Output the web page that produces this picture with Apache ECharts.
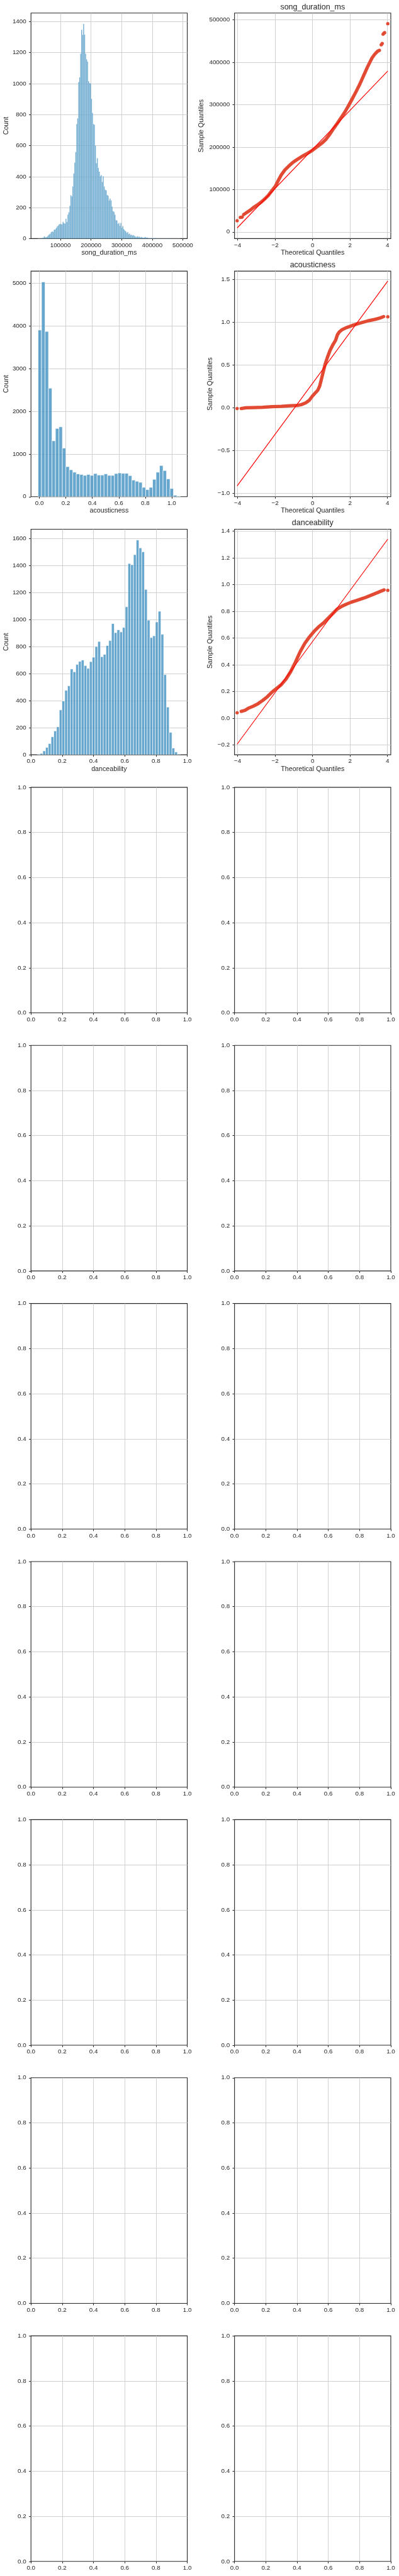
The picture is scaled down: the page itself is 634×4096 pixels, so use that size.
<!DOCTYPE html>
<html><head><meta charset="utf-8">
<script src="https://cdn.jsdelivr.net/npm/echarts@6/dist/echarts.min.js"></script>
<style>html,body{margin:0;padding:0;background:#fff}#c{width:634px;height:4096px}</style>
</head><body><div id="c"></div>
<script>
// ---------------- data ----------------
const features = ['song_duration_ms', 'acousticness', 'danceability'];

const durationStart = 26885, durationWidth = 3203.4;
const durationCounts = [
  2,1,3,3,5,8,15,8,10,14,
  22,28,32,42,46,44,58,58,68,78,
  84,92,95,94,92,108,100,97,128,107,
  155,170,212,280,272,336,420,490,558,739,
  775,1010,1040,1193,1347,1315,1385,1316,1193,1157,
  1142,1016,1004,1002,902,811,739,735,601,486,
  519,456,432,402,410,366,402,336,315,312,
  282,276,246,258,246,207,177,173,155,119,
  117,95,101,83,101,71,81,61,53,47,
  37,42,29,32,23,25,20,23,17,13,
  11,16,11,13,8,11,8,5,8,11,
  6,8,4,3,3,4,3,3,2,4,
  3,2,1,2,1,3,1,2,1,0,
  1,1,2,3,1,0,1,0,1,0,
  0,1,0,2,1
];

const acousticStart = -0.0098, acousticWidth = 0.02622;
const acousticCounts = [3902,5026,3867,2541,1308,1597,1636,1137,704,630,573,534,521,499,521,499,542,507,507,534,499,499,542,556,547,547,494,389,363,337,219,166,219,407,573,731,612,416,192,35,13];

const danceStart = 0.0406, danceWidth = 0.01758;
const danceCounts = [4,10,29,54,83,133,177,207,332,398,477,510,635,614,668,691,701,660,639,689,722,801,838,726,743,808,845,971,904,925,909,942,1095,1415,1406,1481,1589,1531,1502,1224,996,867,880,983,1062,892,593,353,166,50,21,6];

// QQ plots: [theoretical, sample]
const qqDurationBand = [[-3.68,40900],[-3.58,44000],[-3.46,47500],[-3.31,52000],[-3.17,57200],[-2.97,63000],[-2.77,69500],[-2.57,77000],[-2.37,85800],[-2.17,97300],[-1.97,109000],[-1.82,122400],[-1.67,134700],[-1.47,146600],[-1.27,155400],[-1.07,163300],[-0.87,169500],[-0.67,175200],[-0.47,180500],[-0.27,185300],[-0.07,190600],[0.13,197200],[0.33,203800],[0.53,210400],[0.73,219200],[0.93,231000],[1.13,244300],[1.33,256600],[1.53,269800],[1.73,283000],[1.93,298400],[2.13,314700],[2.33,331400],[2.53,349000],[2.73,368800],[2.93,388600],[3.08,401800],[3.18,410600],[3.33,419500],[3.47,426000],[3.57,428300]];
const qqDurationTail = [[-4.03,26400],[-3.86,34300],[-3.80,34600],[-3.76,35200],[3.67,441500],[3.72,444500],[3.77,466500],[3.82,469000],[3.85,470000],[4.02,491200]];
const qqDurationLine = [[-4.03,9240],[4.02,379500]];

const qqAcousticBand = [[-3.81,-0.011],[-3.56,-0.002],[-3.17,0.0],[-2.67,0.004],[-2.17,0.011],[-1.67,0.015],[-1.17,0.022],[-0.77,0.026],[-0.57,0.037],[-0.37,0.055],[-0.17,0.087],[-0.02,0.131],[0.13,0.168],[0.28,0.203],[0.38,0.252],[0.48,0.339],[0.58,0.427],[0.68,0.514],[0.80,0.591],[0.93,0.667],[1.08,0.733],[1.23,0.787],[1.33,0.853],[1.43,0.886],[1.58,0.912],[1.83,0.938],[2.13,0.962],[2.53,0.989],[2.93,1.013],[3.33,1.032],[3.62,1.050],[3.80,1.065]];
const qqAcousticTail = [[-4.03,-0.011],[4.02,1.063]];
const qqAcousticLine = [[-4.03,-0.916],[4.02,1.481]];

const qqDanceBand = [[-3.81,0.052],[-3.61,0.060],[-3.41,0.077],[-3.17,0.091],[-2.92,0.109],[-2.67,0.133],[-2.42,0.161],[-2.17,0.196],[-1.92,0.224],[-1.67,0.252],[-1.42,0.293],[-1.17,0.349],[-0.92,0.419],[-0.67,0.496],[-0.42,0.559],[-0.17,0.608],[0.08,0.650],[0.33,0.685],[0.58,0.713],[0.83,0.748],[1.08,0.783],[1.33,0.818],[1.58,0.839],[1.83,0.855],[2.08,0.869],[2.33,0.880],[2.58,0.892],[2.83,0.904],[3.08,0.918],[3.33,0.932],[3.57,0.946],[3.82,0.960]];
const qqDanceTail = [[-4.03,0.042],[4.02,0.957]];
const qqDanceLine = [[-4.03,-0.193],[4.02,1.340]];

// tick labels
const durationTicks = [100000,200000,300000,400000,500000];
const countTicks1 = [0,200,400,600,800,1000,1200,1400];
const countTicks2 = [0,1000,2000,3000,4000,5000];
const countTicks3 = [0,200,400,600,800,1000,1200,1400,1600];
const unitTicks = [0,0.2,0.4,0.6,0.8,1.0];
const theoTicks = [-4,-2,0,2,4];
const qqDurTicks = [0,100000,200000,300000,400000,500000];
const qqAcTicks = [-1.0,-0.5,0.0,0.5,1.0,1.5];
const qqDaTicks = [-0.2,0.0,0.2,0.4,0.6,0.8,1.0,1.2,1.4];

// ---------------- layout / style ----------------
const S = 0.89;
const FONT = "'Liberation Sans', Arial, sans-serif";
const TXT = '#262626';
const LX = 55.3*S, RX = 418.7*S, GW = 279*S, GH = 403*S;
const rowTop = i => (23.3 + 461.1*i)*S;
const NROWS = 10;

function fmt(dec){ return v => (v < 0 ? '\u2212' : '') + Math.abs(v).toFixed(dec); }

function axis(kind, gi, min, max, ticks, dec, o) {
  o = o || {};
  const isX = kind === 'x';
  return {
    type: 'value', gridIndex: gi, min: min, max: max,
    name: o.name || '', nameLocation: 'middle', nameGap: o.nameGap || 0,
    nameTextStyle: {color: TXT, fontSize: 10.7, fontFamily: FONT},
    axisLine: {show: false, onZero: false},
    axisTick: {show: true, inside: false, length: 3.1, customValues: ticks, lineStyle: {color: TXT, width: 1}},
    axisLabel: {customValues: ticks, formatter: fmt(dec), color: TXT, fontSize: 9.8, fontFamily: FONT, margin: isX ? 5.5 : 7.5},
    splitLine: {show: true, lineStyle: {color: '#cccccc', width: 0.9}, showMinLine: !o.edgeMin, showMaxLine: !o.edgeMax}
  };
}

const grids = [], xAxes = [], yAxes = [], series = [], titles = [];
for (let r = 0; r < NROWS; r++) {
  for (let c = 0; c < 2; c++) {
    grids.push({left: c === 0 ? LX : RX, top: rowTop(r), width: GW, height: GH,
      show: true, borderColor: TXT, borderWidth: 1.1, backgroundColor: 'transparent', containLabel: false, outerBoundsMode: 'none'});
  }
}

function histSeries(gi, start, width, counts, lw) {
  const data = counts.map((c, i) => [start + width*i, start + width*(i+1), c]);
  return {
    type: 'custom', xAxisIndex: gi, yAxisIndex: gi, clip: true, data: data,
    encode: {x: [0,1], y: 2},
    renderItem: function(params, api) {
      const p0 = api.coord([api.value(0), api.value(2)]);
      const p1 = api.coord([api.value(1), 0]);
      return {type: 'rect', shape: {x: p0[0], y: p0[1], width: p1[0]-p0[0], height: p1[1]-p0[1]},
        style: {fill: 'rgba(52,138,189,0.75)', stroke: 'rgba(255,255,255,0.75)', lineWidth: lw}};
    }
  };
}
function qqSeries(gi, band, tail, line) {
  return [
    {type: 'line', xAxisIndex: gi, yAxisIndex: gi, data: band, showSymbol: false, symbol: 'none', smooth: false,
     lineStyle: {color: '#E24A33', width: 5.3, cap: 'round', join: 'round'}, z: 2},
    {type: 'scatter', xAxisIndex: gi, yAxisIndex: gi, data: tail, symbol: 'circle', symbolSize: 5.3,
     itemStyle: {color: '#E24A33', opacity: 1}, z: 3},
    {type: 'line', xAxisIndex: gi, yAxisIndex: gi, data: line, showSymbol: false, symbol: 'none',
     lineStyle: {color: '#ff0000', width: 1.2}, z: 4}
  ];
}

// Row 0
xAxes.push(axis('x', 0, 3660, 514600, durationTicks, 0, {name: features[0], nameGap: 17}));
yAxes.push(axis('y', 0, 0, 1455, countTicks1, 0, {name: 'Count', nameGap: 34, edgeMin: true}));
xAxes.push(axis('x', 1, -4.17, 4.18, theoTicks, 0, {name: 'Theoretical Quantiles', nameGap: 17}));
yAxes.push(axis('y', 1, -15800, 516300, qqDurTicks, 0, {name: 'Sample Quantiles', nameGap: 46.8}));
// Row 1
xAxes.push(axis('x', 2, -0.0635, 1.117, unitTicks, 1, {name: features[1], nameGap: 17}));
yAxes.push(axis('y', 2, 0, 5280, countTicks2, 0, {name: 'Count', nameGap: 34, edgeMin: true}));
xAxes.push(axis('x', 3, -4.17, 4.18, theoTicks, 0, {name: 'Theoretical Quantiles', nameGap: 17}));
yAxes.push(axis('y', 3, -1.043, 1.597, qqAcTicks, 1, {name: 'Sample Quantiles', nameGap: 32.6}));
// Row 2
xAxes.push(axis('x', 4, 0, 1, unitTicks, 1, {name: features[2], nameGap: 17, edgeMin: true, edgeMax: true}));
yAxes.push(axis('y', 4, 0, 1669, countTicks3, 0, {name: 'Count', nameGap: 34, edgeMin: true}));
xAxes.push(axis('x', 5, -4.17, 4.18, theoTicks, 0, {name: 'Theoretical Quantiles', nameGap: 17}));
yAxes.push(axis('y', 5, -0.2725, 1.414, qqDaTicks, 1, {name: 'Sample Quantiles', nameGap: 32.6}));
// Empty rows
for (let gi = 6; gi < NROWS*2; gi++) {
  xAxes.push(axis('x', gi, 0, 1, unitTicks, 1, {edgeMin: true, edgeMax: true}));
  yAxes.push(axis('y', gi, 0, 1, unitTicks, 1, {edgeMin: true, edgeMax: true}));
}

series.push(histSeries(0, durationStart, durationWidth, durationCounts, 0.3));
series.push(...qqSeries(1, qqDurationBand, qqDurationTail, qqDurationLine));
series.push(histSeries(2, acousticStart, acousticWidth, acousticCounts, 0.9));
series.push(...qqSeries(3, qqAcousticBand, qqAcousticTail, qqAcousticLine));
series.push(histSeries(4, danceStart, danceWidth, danceCounts, 0.9));
series.push(...qqSeries(5, qqDanceBand, qqDanceTail, qqDanceLine));

for (let r = 0; r < 3; r++) {
  titles.push({text: features[r], left: RX + GW/2, top: rowTop(r) - 16, textAlign: 'center', padding: 0,
    textStyle: {color: TXT, fontSize: 12.5, fontWeight: 'normal', fontFamily: FONT}});
}

const chart = echarts.init(document.getElementById('c'), null, {renderer: 'canvas'});
chart.setOption({
  animation: false,
  backgroundColor: '#ffffff',
  title: titles,
  grid: grids,
  xAxis: xAxes,
  yAxis: yAxes,
  series: series
});
</script></body></html>
